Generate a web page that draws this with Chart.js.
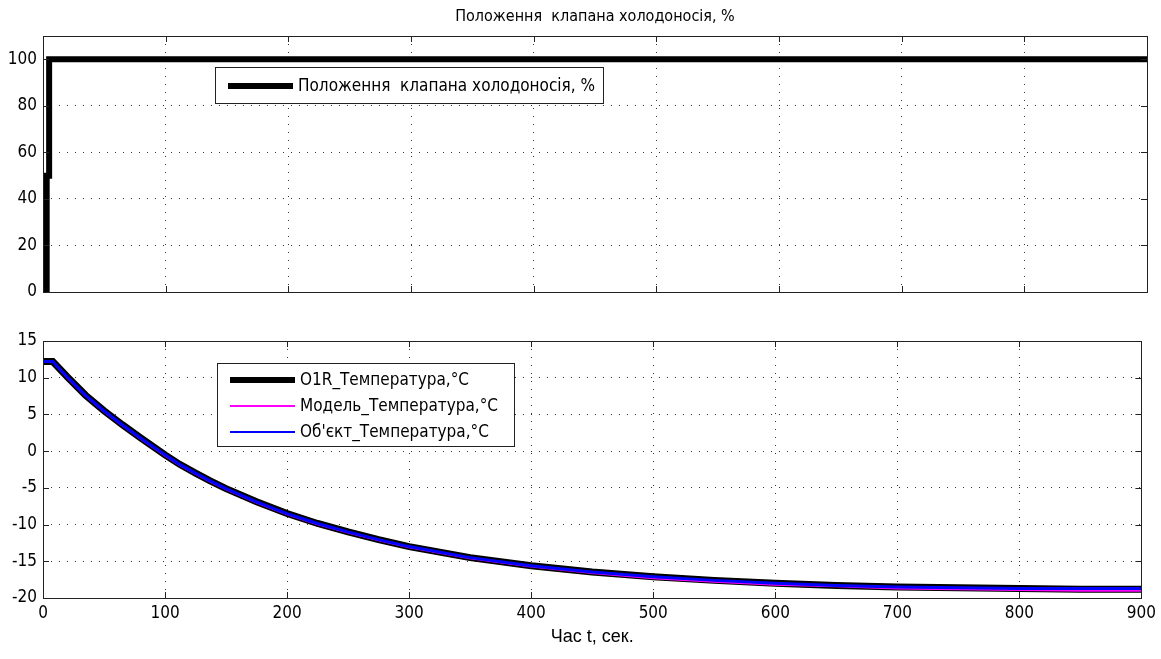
<!DOCTYPE html>
<html>
<head>
<meta charset="utf-8">
<script src="https://cdn.jsdelivr.net/npm/chart.js@4.4.0/dist/chart.umd.min.js"></script>
<style>
  body { margin: 0; background: #fff; }
  #wrap { position: relative; width: 1161px; height: 659px; }
  canvas { position: absolute; left: 0; }
</style>
</head>
<body>
<div id="wrap">
  <canvas id="valveChart" width="1161" height="310" style="top:0"></canvas>
  <canvas id="tempChart" width="1161" height="349" style="top:310px"></canvas>
</div>
<script>
// --- data ---
const valveTitle = 'Положення  клапана холодоносія, %';
const valveTime = [0, 3, 3, 5, 5, 900];
const valvePos = [0, 0, 50, 50, 100, 100];
const valveTicksY = [0, 20, 40, 60, 80, 100];

const tempTime = [0, 8, 20, 35, 50, 65, 80, 100, 112, 125, 137, 150, 175, 200, 225, 250, 275, 300,
  350, 400, 450, 500, 550, 600, 650, 700, 750, 800, 850, 900];
const tempO1R = [12.2, 12.2, 10.1, 7.6, 5.5, 3.6, 1.8, -0.5, -1.8, -3.0, -4.05, -5.1, -6.9, -8.5, -9.85, -11.0, -12.05, -13.0,
  -14.5, -15.6, -16.45, -17.1, -17.6, -18.0, -18.3, -18.5, -18.6, -18.7, -18.8, -18.8];
const tempModel = [12.2, 12.2, 10.0, 7.5, 5.4, 3.5, 1.7, -0.6, -1.9, -3.1, -4.15, -5.2, -7.0, -8.6, -9.95, -11.1, -12.15, -13.1,
  -14.6, -15.7, -16.6, -17.3, -17.8, -18.2, -18.4, -18.7, -18.8, -18.9, -19.0, -19.0];
const tempObject = [12.2, 12.2, 10.1, 7.6, 5.5, 3.6, 1.8, -0.5, -1.8, -3.0, -4.05, -5.1, -6.9, -8.5, -9.85, -11.0, -12.05, -13.0,
  -14.5, -15.6, -16.45, -17.1, -17.6, -18.0, -18.3, -18.5, -18.6, -18.7, -18.7, -18.7];
const tempLabels = ['O1R_Температура,°C', 'Модель_Температура,°C', 'Об\'єкт_Температура,°C'];
const tempTicksY = [-20, -15, -10, -5, 0, 5, 10, 15];
const timeTicks = [0, 100, 200, 300, 400, 500, 600, 700, 800, 900];
const xLabel = 'Час t, сек.';

const narrow = "'Liberation Sans Narrow', 'DejaVu Sans Condensed', sans-serif";
const tickFont = { family: narrow, size: 17 };

function pts(xs, ys) {
  return xs.map((x, i) => ({ x: x, y: ys[i] }));
}

// box, inward ticks, title and legend in MATLAB style
const matlabAxes = {
  id: 'matlabAxes',
  afterDraw(chart, args, opts) {
    const ctx = chart.ctx;
    const a = chart.chartArea;
    const xs = chart.scales.x, ys = chart.scales.y;
    ctx.save();
    ctx.strokeStyle = '#222';
    ctx.lineWidth = 1;
    ctx.beginPath();
    xs.ticks.forEach(t => {
      const px = Math.round(xs.getPixelForValue(t.value)) + 0.5;
      ctx.moveTo(px, a.bottom); ctx.lineTo(px, a.bottom - 6);
      ctx.moveTo(px, a.top); ctx.lineTo(px, a.top + 6);
    });
    ys.ticks.forEach(t => {
      const py = Math.round(ys.getPixelForValue(t.value)) + 0.5;
      ctx.moveTo(a.left, py); ctx.lineTo(a.left + 6, py);
      ctx.moveTo(a.right, py); ctx.lineTo(a.right - 6, py);
    });
    ctx.stroke();
    ctx.strokeRect(Math.round(a.left) + 0.5, Math.round(a.top) + 0.5,
      Math.round(a.right - a.left), Math.round(a.bottom - a.top));

    if (opts.title) {
      ctx.font = '16px ' + narrow;
      ctx.fillStyle = '#000';
      ctx.textAlign = 'center';
      ctx.textBaseline = 'middle';
      ctx.fillText(opts.title, (a.left + a.right) / 2, a.top - 19);
      ctx.textAlign = 'left';
    }

    // legend
    const lg = opts.legend;
    const bx = a.left + lg.x, by = a.top + lg.y;
    ctx.fillStyle = '#fff';
    ctx.fillRect(bx, by, lg.w, lg.h);
    ctx.strokeStyle = '#222';
    ctx.strokeRect(Math.round(bx) + 0.5, Math.round(by) + 0.5, lg.w, lg.h);
    ctx.font = '17px ' + narrow;
    ctx.textBaseline = 'middle';
    chart.data.datasets.forEach((ds, i) => {
      const ry = by + lg.first + i * lg.step;
      ctx.beginPath();
      ctx.strokeStyle = ds.borderColor;
      ctx.lineWidth = ds.legendWidth;
      ctx.moveTo(bx + 13, ry); ctx.lineTo(bx + 78, ry);
      ctx.stroke();
      ctx.fillStyle = '#000';
      ctx.fillText(ds.label, bx + 83, ry + 1);
    });
    ctx.restore();
  }
};

function gridOpts() {
  return { color: '#333', lineWidth: 1, drawTicks: false };
}

new Chart(document.getElementById('valveChart'), {
  type: 'line',
  data: {
    datasets: [{
      label: valveTitle,
      data: pts(valveTime, valvePos),
      borderColor: '#000',
      borderWidth: 6,
      legendWidth: 6,
      pointRadius: 0,
      tension: 0
    }]
  },
  options: {
    responsive: false,
    animation: false,
    layout: { padding: { left: 0, right: 14, top: 36, bottom: 0 } },
    scales: {
      x: {
        type: 'linear', min: 0, max: 900,
        afterBuildTicks: s => { s.ticks = timeTicks.map(v => ({ value: v })); },
        afterFit: s => { s.height = 18; },
        ticks: { display: false },
        grid: gridOpts(),
        border: { display: false, dash: [1, 7] }
      },
      y: {
        min: 0, max: 110,
        afterBuildTicks: s => { s.ticks = valveTicksY.map(v => ({ value: v })); },
        afterFit: s => { s.width = 43; },
        ticks: { color: '#000', font: tickFont, padding: 6 },
        grid: gridOpts(),
        border: { display: false, dash: [1, 7] }
      }
    },
    plugins: {
      legend: { display: false },
      tooltip: { enabled: false },
      matlabAxes: { title: valveTitle, legend: { x: 172, y: 31, w: 388, h: 36, first: 19, step: 26 } }
    }
  },
  plugins: [matlabAxes]
});

new Chart(document.getElementById('tempChart'), {
  type: 'line',
  data: {
    datasets: [
      { label: tempLabels[0], data: pts(tempTime, tempO1R), borderColor: '#000',
        borderWidth: 7, legendWidth: 6, pointRadius: 0, tension: 0, order: 2 },
      { label: tempLabels[1], data: pts(tempTime, tempModel), borderColor: '#ff00ff',
        borderWidth: 2, legendWidth: 2, pointRadius: 0, tension: 0, order: 1 },
      { label: tempLabels[2], data: pts(tempTime, tempObject), borderColor: '#0000ff',
        borderWidth: 3, legendWidth: 2, pointRadius: 0, tension: 0, order: 0 }
    ]
  },
  options: {
    responsive: false,
    animation: false,
    layout: { padding: { left: 0, right: 14, top: 31, bottom: 0 } },
    scales: {
      x: {
        type: 'linear', min: 0, max: 900,
        afterBuildTicks: s => { s.ticks = timeTicks.map(v => ({ value: v })); },
        afterFit: s => { s.height = 61; },
        ticks: { color: '#000', font: tickFont, padding: 5, maxRotation: 0 },
        grid: gridOpts(),
        border: { display: false, dash: [1, 7] },
        title: {
          display: true, text: xLabel, color: '#000',
          font: { family: "'Liberation Sans', Arial, sans-serif", size: 18 },
          padding: { top: 0, bottom: 11 }
        }
      },
      y: {
        min: -20, max: 15,
        afterBuildTicks: s => { s.ticks = tempTicksY.map(v => ({ value: v })); },
        afterFit: s => { s.width = 43; },
        ticks: { color: '#000', font: tickFont, padding: 6 },
        grid: gridOpts(),
        border: { display: false, dash: [1, 7] }
      }
    },
    plugins: {
      legend: { display: false },
      tooltip: { enabled: false },
      matlabAxes: { legend: { x: 174, y: 22, w: 297, h: 83, first: 17, step: 26 } }
    }
  },
  plugins: [matlabAxes]
});
</script>
</body>
</html>
